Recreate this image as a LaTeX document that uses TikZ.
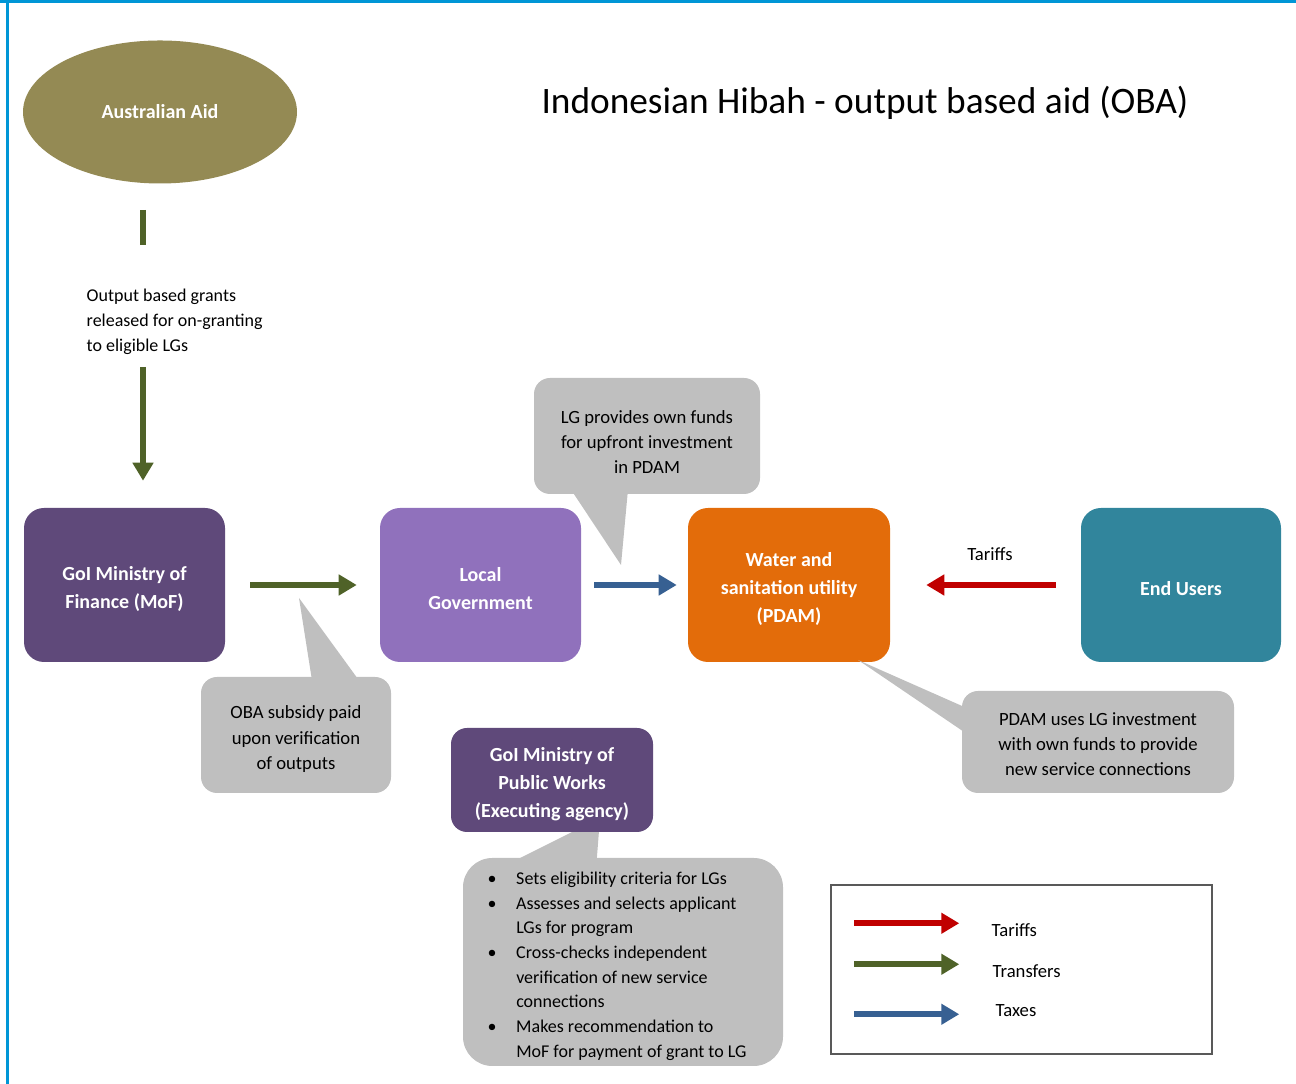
\documentclass[tikz,border=0pt]{standalone}
\usepackage{fontspec}
\setmainfont{Carlito}
\usetikzlibrary{arrows.meta,calc,shapes.geometric}

\definecolor{aidolive}{HTML}{948A54}
\definecolor{mofpurple}{HTML}{5F497A}
\definecolor{lgpurple}{HTML}{9071BC}
\definecolor{pdamorange}{HTML}{E36C0A}
\definecolor{userteal}{HTML}{31859C}
\definecolor{notegray}{HTML}{BFBFBF}
\definecolor{transgreen}{HTML}{4F6228}
\definecolor{taxblue}{HTML}{376092}
\definecolor{tariffred}{HTML}{C00000}
\definecolor{frameblue}{HTML}{0096D6}
\definecolor{keygray}{HTML}{595959}

\newcommand{\itm}{\makebox[21.5pt][l]{\textbullet}}
\newcommand{\ind}{\hspace*{21.5pt}}
\newcommand{\lift}[1]{\rule{0pt}{#1}}

\begin{document}
\begin{tikzpicture}[x=0.75pt,y=0.75pt,
  box/.style={rectangle,rounded corners=15pt,minimum width=150.75pt,minimum height=115.5pt,
    text=white,align=center,font=\fontsize{15}{21}\selectfont\bfseries},
  note/.style={rectangle,rounded corners=12pt,fill=notegray,align=center,
    font=\fontsize{14}{19}\selectfont},
  plain/.style={font=\fontsize{14}{19}\selectfont},
  flow/.style={line width=4.5pt,-{Triangle[length=13.5pt,width=15pt]}},
  transfer/.style={flow,draw=transgreen},
  tax/.style={flow,draw=taxblue},
  tariff/.style={flow,draw=tariffred}]
  \useasboundingbox (0,0) rectangle (1296,1084);
  \fill[frameblue] (0,1081) rectangle (1296,1084);
  \fill[frameblue] (6,0) rectangle (8.5,1084);

  \node[font=\fontsize{28}{34}\selectfont] (title) at (865,981) {Indonesian Hibah - output based aid (OBA)};

  \node[ellipse,fill=aidolive,minimum width=205.5pt,minimum height=107.25pt,text=white,
    font=\fontsize{15}{21}\selectfont\bfseries] (aid) at (160,972) {Australian Aid};

  \node[box,fill=mofpurple] (mof) at (124.5,499) {\lift{16.5pt}GoI Ministry of\\Finance (MoF)};
  \node[box,fill=lgpurple] (lg) at (480.5,499) {\lift{16.5pt}Local\\Government};
  \node[box,fill=pdamorange,minimum width=151.5pt] (pdam) at (789,499) {\lift{16.5pt}Water and\\sanitation utility\\(PDAM)};
  \node[box,fill=userteal,minimum width=150pt] (users) at (1181,499) {\lift{16.5pt}End Users};

  \node[plain,align=left,anchor=west,font=\fontsize{13.5}{18.75}\selectfont] (grants) at (82,762.5)
    {Output based grants\\released for on-granting\\to eligible LGs};
  \coordinate (gtop) at (143,839);
  \coordinate (gbot) at (143,717);
  \draw[transfer,-,shorten <=19.5pt] ([xshift=-12.75pt]aid.south) -- (gtop);
  \draw[transfer,shorten >=20.25pt] (gbot) -- ([xshift=13.875pt]mof.north);

  \path (mof) edge[transfer,shorten <=18.75pt,shorten >=17.25pt] (lg)
        (lg) edge[tax,shorten <=9.75pt,shorten >=8.25pt] (pdam)
        (users) edge[tariff,shorten <=18.75pt,shorten >=27pt] (pdam);
  \node[plain] (tarifftext) at (990,530) {Tariffs};

  \node[note,minimum width=169.5pt,minimum height=87pt] (lgnote) at (647,648)
    {\lift{18.8pt}LG provides own funds\\for upfront investment\\in PDAM};
  \coordinate (lgtip) at (621,519);
  \fill[notegray] ($(lgnote.south west)+(39,2)$) -- (lgtip) -- ($(lgnote.south west)+(94,2)$) -- cycle;

  \node[note,minimum width=142.5pt,minimum height=87pt] (obanote) at (296,349)
    {\lift{15.8pt}OBA subsidy paid\\upon verification\\of outputs};
  \coordinate (obatip) at (299,486);
  \fill[notegray] ($(obanote.north west)+(111,-2)$) -- (obatip) -- ($(obanote.north west)+(157,-2)$) -- cycle;

  \node[note,minimum width=204pt,minimum height=76.5pt] (pdamnote) at (1098,342)
    {\lift{12.8pt}PDAM uses LG investment\\with own funds to provide\\new service connections};
  \coordinate (pdamtip) at (858,424);
  \fill[notegray] ($(pdamnote.north west)+(2,-16)$) -- (pdamtip) -- ($(pdamnote.north west)+(2,-41)$) -- cycle;

  \node[note,rounded corners=22pt,minimum width=240pt,minimum height=156pt,align=left,
    font=\fontsize{13.5}{18.5}\selectfont] (worksnote) at (623,122)
    {\lift{15.5pt}\itm Sets eligibility criteria for LGs\\
     \itm Assesses and selects applicant\\
     \ind LGs for program\\
     \itm Cross-checks independent\\
     \ind verification of new service\\
     \ind connections\\
     \itm Makes recommendation to\\
     \ind MoF for payment of grant to LG\hspace*{9pt}};
  \coordinate (workstip) at (600,266);
  \fill[notegray] ($(worksnote.north west)+(54,-2)$) -- (workstip) -- ($(worksnote.north west)+(134,-2)$) -- cycle;

  \node[box,fill=mofpurple,rounded corners=12pt,minimum width=151.5pt,minimum height=78pt] (works) at (552,304)
    {\lift{16.5pt}GoI Ministry of\\Public Works\\(Executing agency)};

  \node[draw=keygray,line width=1.1pt,minimum width=285.75pt,minimum height=126.75pt] (key) at (1021.5,114.5) {};
  \coordinate (k1) at ($(key.north west)+(24,-39)$);
  \coordinate (k1e) at ($(key.north west)+(129,-39)$);
  \coordinate (k2) at ($(key.north west)+(24,-80)$);
  \coordinate (k2e) at ($(key.north west)+(129,-80)$);
  \coordinate (k3) at ($(key.north west)+(24,-130)$);
  \coordinate (k3e) at ($(key.north west)+(129,-130)$);
  \draw[tariff] (k1) -- (k1e);
  \draw[transfer] (k2) -- (k2e);
  \draw[tax] (k3) -- (k3e);
  \node[plain,anchor=west] (keytariff) at (987,154) {Tariffs};
  \node[plain,anchor=west] (keytransfer) at (988,113) {Transfers};
  \node[plain,anchor=west] (keytax) at (991,73) {Taxes};
\end{tikzpicture}
\end{document}
